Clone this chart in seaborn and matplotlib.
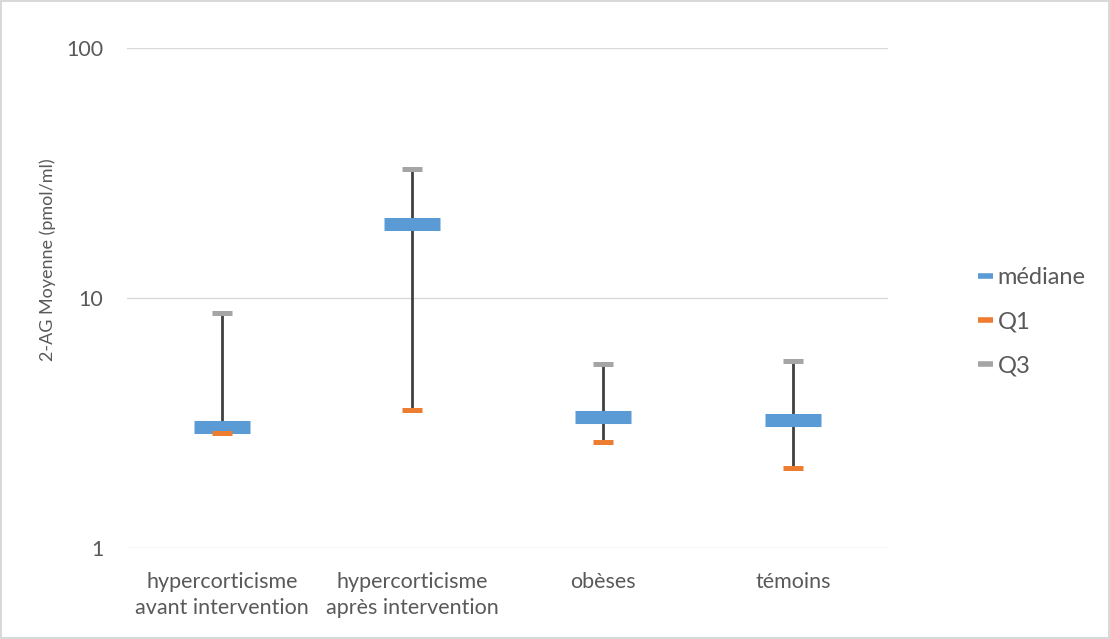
import pandas as pd
import matplotlib.pyplot as plt
import seaborn as sns
from matplotlib.lines import Line2D

# values (log scale)
categories = ['hypercorticisme\navant intervention', 'hypercorticisme\naprès intervention',
              'obèses', 'témoins']
mediane = [3.06, 19.7, 3.33, 3.25]
q1 = [2.89, 3.56, 2.66, 2.08]
q3 = [8.73, 32.8, 5.45, 5.58]

colors = {'médiane': '#5b9bd5', 'Q1': '#ed7d31', 'Q3': '#a5a5a5'}
text_col = '#595959'
grid_col = '#d9d9d9'


def make_chart():
    df = pd.DataFrame({'cat': categories, 'médiane': mediane, 'Q1': q1, 'Q3': q3})

    sns.set_theme(style="white")
    plt.rcParams['font.family'] = ['Lato', 'DejaVu Sans']

    fig = plt.figure(figsize=(11.1, 6.39), dpi=100)
    fig.patch.set_edgecolor(grid_col)
    fig.patch.set_linewidth(1.5)
    ax = fig.add_axes([0.1144, 0.1424, 0.6856, 0.7825])

    # high-low lines behind the markers
    ax.vlines(df['cat'], df['Q1'], df['Q3'], color='#404040', linewidth=2, zorder=2)

    sns.scatterplot(data=df, x='cat', y='médiane', marker='_', s=1570, linewidths=9.4,
                    color=colors['médiane'], ax=ax, zorder=3)
    sns.scatterplot(data=df, x='cat', y='Q1', marker='_', s=210, linewidths=3.6,
                    color=colors['Q1'], ax=ax, zorder=4)
    sns.scatterplot(data=df, x='cat', y='Q3', marker='_', s=210, linewidths=3.6,
                    color=colors['Q3'], ax=ax, zorder=4)

    ax.set_yscale('log')
    ax.set_ylim(1, 100)
    ax.set_xlim(-0.5, 3.5)
    ax.set_yticks([1, 10, 100])
    ax.set_yticklabels(['1', '10', '100'])
    ax.minorticks_off()
    ax.yaxis.grid(True, color=grid_col, linewidth=1)
    ax.set_axisbelow(True)
    for s in ax.spines.values():
        s.set_visible(False)

    ax.tick_params(axis='both', length=0, labelsize=15.5, labelcolor=text_col)
    ax.tick_params(axis='y', pad=17)
    ax.tick_params(axis='x', pad=17)
    for lbl in ax.get_xticklabels():
        lbl.set_linespacing(1.4)
    ax.set_xlabel('')
    ax.set_ylabel('2-AG Moyenne (pmol/ml)', fontsize=13, color=text_col)
    ax.yaxis.set_label_coords(-0.093, 0.577)

    handles = [Line2D([0], [0], color=colors[k], linewidth=4, solid_capstyle='butt')
               for k in ['médiane', 'Q1', 'Q3']]
    ax.legend(handles, ['médiane', 'Q1', 'Q3'], loc='center left',
              bbox_to_anchor=(1.118, 0.452), frameon=False, fontsize=17,
              labelcolor=text_col, handlelength=0.65, handletextpad=0.2,
              labelspacing=0.98, borderpad=0, borderaxespad=0)

    fig.savefig('out.png', dpi=100, edgecolor=fig.get_edgecolor())


if __name__ == "__main__":
    make_chart()
